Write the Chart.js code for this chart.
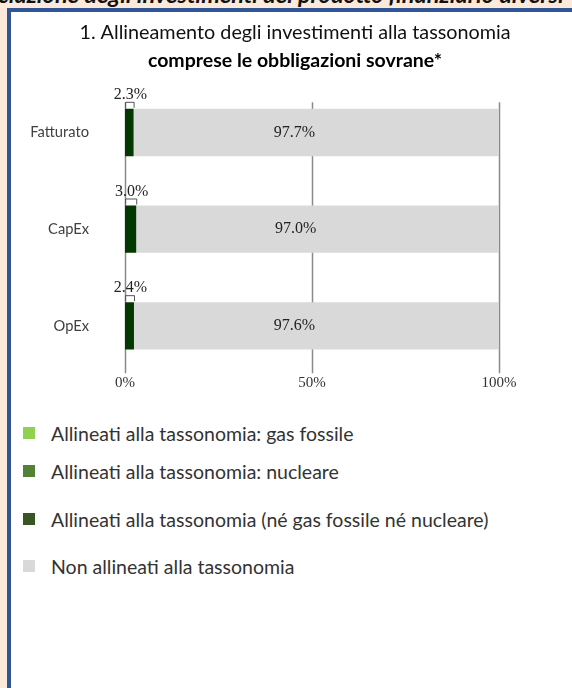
<!DOCTYPE html>
<html>
<head>
<meta charset="utf-8">
<script src="https://cdn.jsdelivr.net/npm/chart.js@4"></script>
<style>
    html, body { margin: 0; padding: 0; }
    body { width: 572px; height: 688px; background: #fde9d9; position: relative; overflow: hidden; font-family: Lato, sans-serif; }
    #cut { position: absolute; left: -2px; top: -20px; white-space: nowrap; font: italic bold 23.5px Lato, sans-serif; color: #111; }
    #box { position: absolute; left: 7px; top: 8px; right: -10px; bottom: -10px; background: #fff; border-left: 4px solid #2f5597; border-top: 4px solid #2f5597; }
    #wrap { position: absolute; left: 11px; top: 12px; width: 568px; height: 407px; }
    .leg { position: absolute; left: 23px; height: 24px; display: flex; align-items: center; font-size: 19.5px; color: #333; }
    .leg span.sw { width: 12px; height: 12px; margin-right: 16px; }
</style>
</head>
<body>
<div id="cut">ciazione degli investimenti del prodotto finanziario diversi</div>
<div id="box"></div>
<div id="wrap"><canvas id="taxChart"></canvas></div>
<div id="legend"></div>
<script>
(function () {
    // dati
    const categorie = ['Fatturato', 'CapEx', 'OpEx'];
    const serieNomi = [
        'Allineati alla tassonomia: gas fossile',
        'Allineati alla tassonomia: nucleare',
        'Allineati alla tassonomia (né gas fossile né nucleare)',
        'Non allineati alla tassonomia'
    ];
    const gasFossile = [0, 0, 0];
    const nucleare = [0, 0, 0];
    const altriAllineati = [2.3, 3.0, 2.4];
    const nonAllineati = [97.7, 97.0, 97.6];
    const tickValori = [0, 50, 100];

    const colori = ['#92d050', '#548235', '#033803', '#d9d9d9'];
    const coloriLegenda = ['#92d050', '#548235', '#375623', '#d9d9d9'];
    const legendaTop = [421, 459, 507, 554];

    const serieValori = [gasFossile, nucleare, altriAllineati, nonAllineati];

    // legenda html
    const legend = document.getElementById('legend');
    serieNomi.forEach((nome, i) => {
        const d = document.createElement('div');
        d.className = 'leg';
        d.style.top = legendaTop[i] + 'px';
        d.innerHTML = '<span class="sw" style="background:' + coloriLegenda[i] + '"></span>';
        d.appendChild(document.createTextNode(nome));
        legend.appendChild(d);
    });

    const serif = '"Liberation Serif", "Times New Roman", serif';

    // griglia verticale corta, come nell'originale
    const gridPlugin = {
        id: 'gridCorta',
        beforeDatasetsDraw(chart) {
            const ctx = chart.ctx;
            const x = chart.scales.x;
            const top = chart.chartArea.top + 18;
            const bottom = chart.chartArea.bottom - 1;
            ctx.save();
            ctx.strokeStyle = '#8a8a8a';
            ctx.lineWidth = 1.5;
            tickValori.forEach(v => {
                const px = Math.round(x.getPixelForValue(v)) + 0.5;
                ctx.beginPath();
                ctx.moveTo(px, top);
                ctx.lineTo(px, bottom);
                ctx.stroke();
            });
            ctx.restore();
        }
    };

    // etichette dati
    const labelPlugin = {
        id: 'etichette',
        afterDatasetsDraw(chart) {
            const ctx = chart.ctx;
            ctx.save();
            ctx.font = '16px ' + serif;
            ctx.fillStyle = '#222';
            ctx.textAlign = 'center';
            ctx.textBaseline = 'middle';
            chart.data.datasets.forEach((ds, di) => {
                const meta = chart.getDatasetMeta(di);
                meta.data.forEach((bar, i) => {
                    const v = ds.data[i];
                    if (!v) return;
                    const txt = v.toFixed(1) + '%';
                    const left = Math.min(bar.x, bar.base);
                    const right = Math.max(bar.x, bar.base);
                    const top = bar.y - bar.height / 2;
                    if (v >= 50) {
                        ctx.fillText(txt, (left + right) / 2 - 22, bar.y);
                    } else {
                        ctx.fillText(txt, (left + right) / 2 + 1, top - 14);
                        ctx.strokeStyle = '#555';
                        ctx.lineWidth = 1;
                        ctx.beginPath();
                        ctx.moveTo(left + 0.5, top - 1);
                        ctx.lineTo(left + 0.5, top - 6.5);
                        ctx.lineTo(right + 0.5, top - 6.5);
                        ctx.lineTo(right + 0.5, top - 1);
                        ctx.stroke();
                    }
                });
            });
            ctx.restore();
        }
    };

    new Chart(document.getElementById('taxChart').getContext('2d'), {
        type: 'bar',
        data: {
            labels: categorie,
            datasets: serieNomi.map((nome, i) => ({
                label: nome,
                data: serieValori[i],
                backgroundColor: colori[i],
                borderWidth: 0,
                barPercentage: 0.49,
                categoryPercentage: 1
            }))
        },
        options: {
            indexAxis: 'y',
            responsive: true,
            maintainAspectRatio: false,
            animation: false,
            layout: { padding: { left: 0, right: 0, bottom: 9 } },
            plugins: {
                legend: { display: false },
                tooltip: { enabled: false },
                title: {
                    display: true,
                    text: '1. Allineamento degli investimenti alla tassonomia',
                    color: '#111',
                    font: { family: 'Lato', size: 19.8, weight: 'normal' },
                    padding: { top: 9, bottom: 4 }
                },
                subtitle: {
                    display: true,
                    text: 'comprese le obbligazioni sovrane*',
                    color: '#000',
                    font: { family: 'Lato', size: 19.5, weight: 'bold' },
                    padding: { top: 0, bottom: 12 }
                }
            },
            scales: {
                x: {
                    stacked: true,
                    min: 0,
                    max: 100,
                    afterBuildTicks(scale) {
                        scale.ticks = tickValori.map(v => ({ value: v }));
                    },
                    grid: { display: false, drawTicks: false },
                    border: { display: false },
                    ticks: {
                        padding: 0,
                        color: '#333',
                        font: { family: 'Liberation Serif', size: 15 },
                        callback: v => v + '%'
                    }
                },
                y: {
                    stacked: true,
                    afterFit(scale) { scale.width = 114; },
                    grid: { display: false, drawTicks: false },
                    border: { display: false },
                    ticks: {
                        padding: 36,
                        color: '#404040',
                        font: { family: 'Lato', size: 14.7 }
                    }
                },
                // spazio vuoto a destra, per centrare il titolo come nell'originale
                yDx: {
                    type: 'category',
                    position: 'right',
                    afterFit(scale) { scale.width = 80; },
                    grid: { display: false, drawTicks: false },
                    border: { display: false },
                    ticks: { display: false }
                }
            }
        },
        plugins: [gridPlugin, labelPlugin]
    });
})();
</script>
</body>
</html>
